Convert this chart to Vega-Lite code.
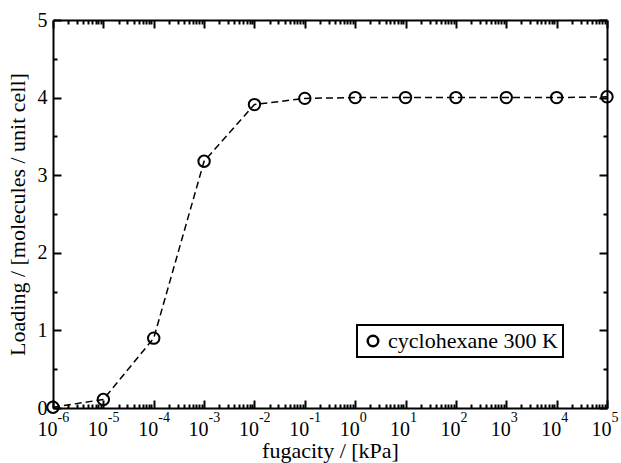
{
  "$schema": "https://vega.github.io/schema/vega-lite/v6.json",
  "width": 554,
  "height": 388,
  "autosize": "none",
  "padding": {"left": 53, "top": 20, "right": 14, "bottom": 55},
  "background": "white",
  "config": {
    "font": "Liberation Serif",
    "view": {"stroke": null},
    "axis": {
      "grid": false,
      "domainColor": "black",
      "domainWidth": 2,
      "tickColor": "black",
      "tickWidth": 2,
      "labelColor": "black",
      "labelFont": "Liberation Serif",
      "labelFontSize": 20,
      "titleFont": "Liberation Serif",
      "titleFontSize": 22,
      "titleFontWeight": "normal",
      "titleColor": "black",
      "labelOverlap": false,
      "labelFlush": false
    },
    "legend": {
      "strokeColor": "black",
      "strokeWidth": 2,
      "padding": 5,
      "labelFont": "Liberation Serif",
      "labelFontSize": 22,
      "labelColor": "black",
      "labelLimit": 400
    }
  },
  "data": {
    "values": [
      {"f": 1e-6, "L": 0.01, "s": "cyclohexane 300 K"},
      {"f": 1e-5, "L": 0.11, "s": "cyclohexane 300 K"},
      {"f": 1e-4, "L": 0.9, "s": "cyclohexane 300 K"},
      {"f": 1e-3, "L": 3.18, "s": "cyclohexane 300 K"},
      {"f": 1e-2, "L": 3.91, "s": "cyclohexane 300 K"},
      {"f": 1e-1, "L": 3.99, "s": "cyclohexane 300 K"},
      {"f": 1, "L": 4.0, "s": "cyclohexane 300 K"},
      {"f": 10, "L": 4.0, "s": "cyclohexane 300 K"},
      {"f": 100, "L": 4.0, "s": "cyclohexane 300 K"},
      {"f": 1000, "L": 4.0, "s": "cyclohexane 300 K"},
      {"f": 10000, "L": 4.0, "s": "cyclohexane 300 K"},
      {"f": 100000, "L": 4.01, "s": "cyclohexane 300 K"}
    ]
  },
  "resolve": {"axis": {"x": "independent", "y": "independent"}},
  "layer": [
    {
      "mark": {"type": "line", "color": "black", "strokeWidth": 1.5, "strokeDash": [7, 4], "clip": false},
      "encoding": {
        "x": {
          "field": "f", "type": "quantitative",
          "scale": {"type": "log", "domain": [1e-6, 100000], "nice": false},
          "axis": {
            "orient": "bottom",
            "title": "fugacity / [kPa]",
            "titleBaseline": "alphabetic",
            "titleY": 49,
            "values": [1e-6,2e-6,3e-6,4e-6,5e-6,6e-6,7e-6,8e-6,9e-6,
                       1e-5,2e-5,3e-5,4e-5,5e-5,6e-5,7e-5,8e-5,9e-5,
                       1e-4,2e-4,3e-4,4e-4,5e-4,6e-4,7e-4,8e-4,9e-4,
                       1e-3,2e-3,3e-3,4e-3,5e-3,6e-3,7e-3,8e-3,9e-3,
                       1e-2,2e-2,3e-2,4e-2,5e-2,6e-2,7e-2,8e-2,9e-2,
                       0.1,0.2,0.3,0.4,0.5,0.6,0.7,0.8,0.9,
                       1,2,3,4,5,6,7,8,9,
                       10,20,30,40,50,60,70,80,90,
                       100,200,300,400,500,600,700,800,900,
                       1000,2000,3000,4000,5000,6000,7000,8000,9000,
                       10000,20000,30000,40000,50000,60000,70000,80000,90000,
                       100000],
            "labelExpr": "abs(log(datum.value)/LN10 - round(log(datum.value)/LN10)) < 0.001 ? '10' : ''",
            "labelAlign": "right",
            "labelOffset": 4,
            "labelPadding": 19,
            "tickSize": {"condition": {"test": "abs(log(datum.value)/LN10 - round(log(datum.value)/LN10)) < 0.001", "value": -8}, "value": -4}
          }
        },
        "y": {
          "field": "L", "type": "quantitative",
          "scale": {"domain": [0, 5], "nice": false},
          "axis": {
            "orient": "left",
            "title": "Loading / [molecules / unit cell]",
            "titlePadding": 8,
            "values": [0, 0.5, 1, 1.5, 2, 2.5, 3, 3.5, 4, 4.5, 5],
            "labelExpr": "datum.value % 1 == 0 ? format(datum.value, 'd') : ''",
            "labelPadding": 14,
            "tickSize": {"condition": {"test": "datum.value % 1 == 0", "value": -8}, "value": -4}
          }
        }
      }
    },
    {
      "mark": {"type": "point", "filled": false, "size": 130, "strokeWidth": 2, "opacity": 1, "clip": false},
      "encoding": {
        "x": {
          "field": "f", "type": "quantitative",
          "scale": {"type": "log", "domain": [1e-6, 100000], "nice": false},
          "axis": {
            "orient": "bottom",
            "title": null,
            "domain": false,
            "ticks": false,
            "values": [1e-6,1e-5,1e-4,1e-3,1e-2,0.1,1,10,100,1000,10000,100000],
            "labelExpr": "(round(log(datum.value)/LN10) < 0 ? '-' : '') + abs(round(log(datum.value)/LN10))",
            "labelFontSize": 14,
            "labelAlign": "left",
            "labelOffset": 4,
            "labelPadding": 2
          }
        },
        "y": {
          "field": "L", "type": "quantitative",
          "scale": {"domain": [0, 5], "nice": false},
          "axis": {
            "orient": "right",
            "title": null,
            "labels": false,
            "values": [0, 0.5, 1, 1.5, 2, 2.5, 3, 3.5, 4, 4.5, 5],
            "tickSize": {"condition": {"test": "datum.value % 1 == 0", "value": -8}, "value": -4}
          }
        },
        "stroke": {
          "field": "s", "type": "nominal",
          "scale": {"range": ["black"]},
          "legend": {
            "title": null,
            "orient": "none",
            "legendX": 304,
            "legendY": 305,
            "symbolType": "circle",
            "symbolSize": 110,
            "symbolStrokeWidth": 2.5,
            "symbolStrokeColor": "black",
            "symbolFillColor": "white",
            "labelOffset": 4,
            "labelLimit": 400
          }
        }
      }
    },
    {
      "mark": {"type": "point", "opacity": 0},
      "encoding": {
        "x": {
          "field": "f", "type": "quantitative",
          "scale": {"type": "log", "domain": [1e-6, 100000], "nice": false},
          "axis": {
            "orient": "top",
            "title": null,
            "labels": false,
            "values": [1e-6,2e-6,3e-6,4e-6,5e-6,6e-6,7e-6,8e-6,9e-6,
                       1e-5,2e-5,3e-5,4e-5,5e-5,6e-5,7e-5,8e-5,9e-5,
                       1e-4,2e-4,3e-4,4e-4,5e-4,6e-4,7e-4,8e-4,9e-4,
                       1e-3,2e-3,3e-3,4e-3,5e-3,6e-3,7e-3,8e-3,9e-3,
                       1e-2,2e-2,3e-2,4e-2,5e-2,6e-2,7e-2,8e-2,9e-2,
                       0.1,0.2,0.3,0.4,0.5,0.6,0.7,0.8,0.9,
                       1,2,3,4,5,6,7,8,9,
                       10,20,30,40,50,60,70,80,90,
                       100,200,300,400,500,600,700,800,900,
                       1000,2000,3000,4000,5000,6000,7000,8000,9000,
                       10000,20000,30000,40000,50000,60000,70000,80000,90000,
                       100000],
            "tickSize": {"condition": {"test": "abs(log(datum.value)/LN10 - round(log(datum.value)/LN10)) < 0.001", "value": -8}, "value": -4}
          }
        },
        "y": {
          "field": "L", "type": "quantitative",
          "scale": {"domain": [0, 5], "nice": false},
          "axis": null
        }
      }
    }
  ]
}
